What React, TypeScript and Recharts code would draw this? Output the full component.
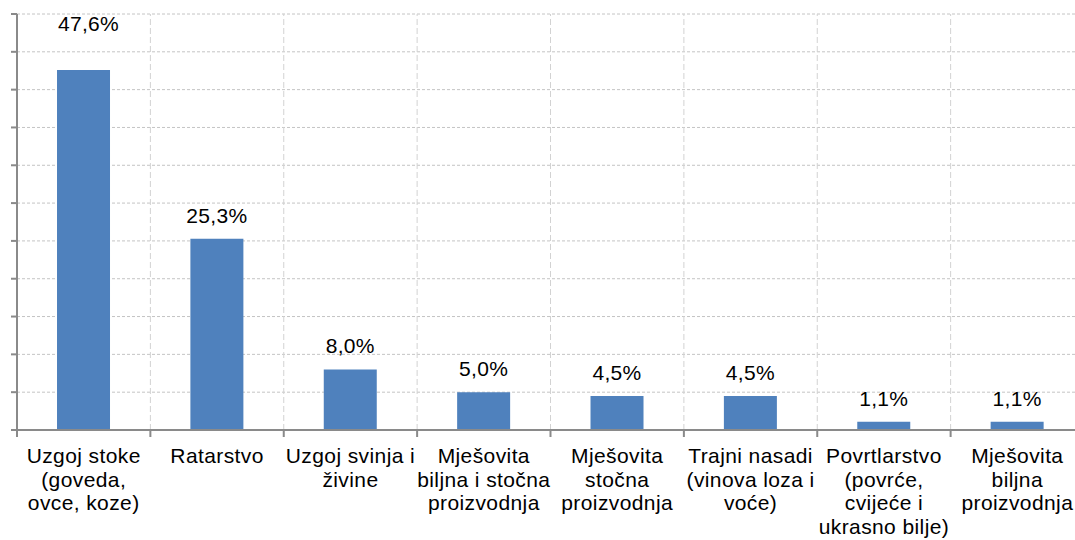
import { BarChart, Bar, XAxis, YAxis, CartesianGrid, LabelList, ReferenceLine } from 'recharts';

// Category labels, already broken into lines like in the original
const categoryLines: string[][] = [
  ['Uzgoj stoke', '(goveda,', 'ovce, koze)'],
  ['Ratarstvo'],
  ['Uzgoj svinja i', 'živine'],
  ['Mješovita', 'biljna i stočna', 'proizvodnja'],
  ['Mješovita', 'stočna', 'proizvodnja'],
  ['Trajni nasadi', '(vinova loza i', 'voće)'],
  ['Povrtlarstvo', '(povrće,', 'cvijeće i', 'ukrasno bilje)'],
  ['Mješovita', 'biljna', 'proizvodnja'],
];

// Share of farms (%)
const shares = [47.6, 25.3, 8.0, 5.0, 4.5, 4.5, 1.1, 1.1];

const yTicks = [0, 5, 10, 15, 20, 25, 30, 35, 40, 45, 50, 55];

const data = categoryLines.map((lines, i) => ({
  name: lines.join(' '),
  lines,
  value: shares[i],
}));

const FONT = '"Liberation Sans", Arial, sans-serif';
const AXIS_COLOR = '#8a8a8a';

const fmt = (v: number) => `${v.toFixed(1).replace('.', ',')}%`;

// wrapped category name + tick marks on the band edges (Excel style)
const CategoryTick = (props: any) => {
  const { x, y, index, payload } = props;
  const half = payload?.offset ?? 0;
  const lines = data[index]?.lines ?? [];
  return (
    <g>
      <line x1={x - half} x2={x - half} y1={y} y2={y + 7} stroke={AXIS_COLOR} strokeWidth={2} />
      {index === data.length - 1 && (
        <line x1={x + half} x2={x + half} y1={y} y2={y + 7} stroke={AXIS_COLOR} strokeWidth={2} />
      )}
      <text x={x} y={y} textAnchor="middle" fontFamily={FONT} fontSize={21} letterSpacing={0.4} fill="#000">
        {lines.map((line, i) => (
          <tspan key={i} x={x} dy={i === 0 ? 33 : 23.7}>
            {line}
          </tspan>
        ))}
      </text>
    </g>
  );
};

const ValueLabel = (props: any) => {
  const { x, y, width, value, index } = props;
  // the tallest bar's label sits higher, as in the source chart
  const lift = index === 0 ? 39 : 16;
  const shift = index === 0 ? 5 : 0;
  return (
    <text
      x={x + width / 2 + shift}
      y={y - lift}
      textAnchor="middle"
      fontFamily={FONT}
      fontSize={21}
      letterSpacing={0.3}
      fill="#000"
    >
      {fmt(value)}
    </text>
  );
};

export default function App() {
  return (
    <div style={{ position: 'fixed', left: 8, top: 8, width: 1067, height: 532, overflow: 'hidden', background: '#fff' }}>
      <BarChart
        width={1076}
        height={532}
        data={data}
        margin={{ top: 6, right: 0, left: 0, bottom: 0 }}
        barCategoryGap="30%"
      >
        <CartesianGrid vertical={false} stroke="#c4c4c4" strokeDasharray="3 2" />
        {data.slice(1).map((d) => (
          <ReferenceLine
            key={d.name}
            x={d.name}
            position="start"
            stroke="#d2d2d2"
            strokeDasharray="6 3"
          />
        ))}
        <XAxis
          dataKey="name"
          interval={0}
          height={110}
          tickLine={false}
          tickSize={0}
          tickMargin={0}
          stroke={AXIS_COLOR}
          strokeWidth={2}
          tick={<CategoryTick />}
        />
        <YAxis
          domain={[0, 55]}
          ticks={yTicks}
          tickFormatter={() => ''}
          width={9}
          tickSize={6}
          stroke={AXIS_COLOR}
          strokeWidth={2}
        />
        <Bar dataKey="value" fill="#4f81bd" isAnimationActive={false}>
          <LabelList dataKey="value" content={<ValueLabel />} />
        </Bar>
      </BarChart>
    </div>
  );
}
